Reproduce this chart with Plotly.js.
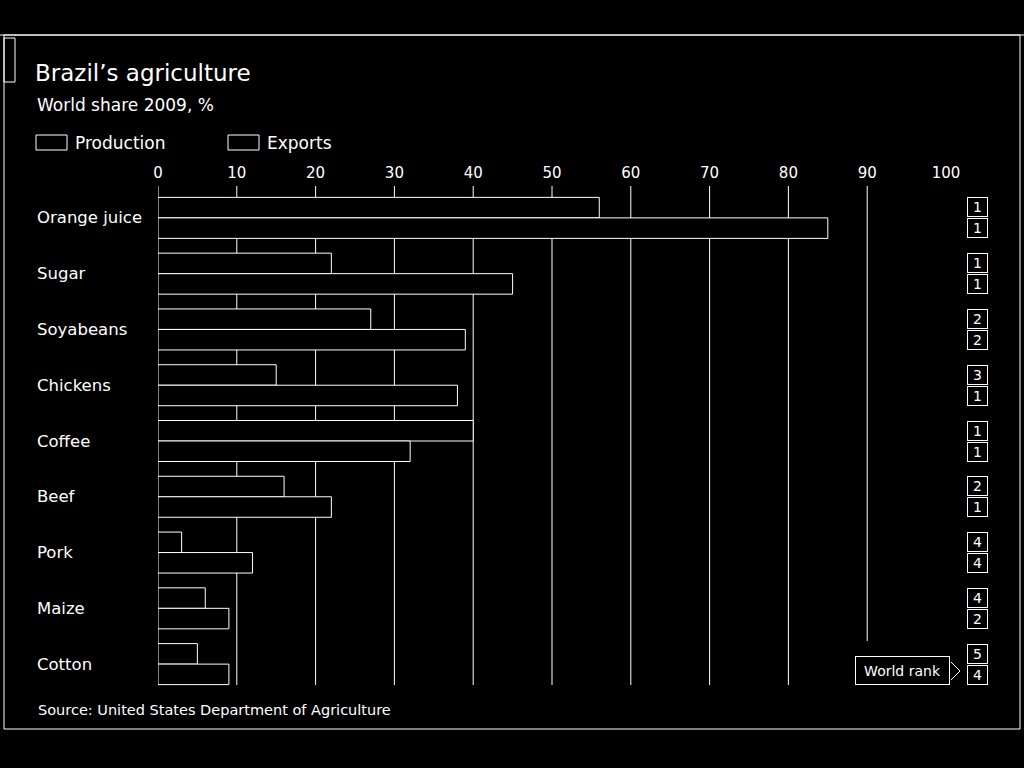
<!DOCTYPE html>
<html><head><meta charset="utf-8">
<script src="https://cdn.plot.ly/plotly-3.0.1.min.js"></script>
<style>html,body{margin:0;padding:0;background:#000;}#chart{width:1024px;height:768px;}</style>
</head><body><div id="chart"></div>
<script>
// ---- data ----
const categories = ["Orange juice", "Sugar", "Soyabeans", "Chickens", "Coffee", "Beef", "Pork", "Maize", "Cotton"];
const production = [56, 22, 27, 15, 40, 16, 3, 6, 5];
const exportsShare = [85, 45, 39, 38, 32, 22, 12, 9, 9];
const productionRank = [1, 1, 2, 3, 1, 2, 4, 4, 5];
const exportsRank = [1, 1, 2, 1, 1, 1, 4, 2, 4];
const tickValues = [0, 10, 20, 30, 40, 50, 60, 70, 80, 90, 100];
const gridValues = [0, 10, 20, 30, 40, 50, 60, 70, 80, 90];

// ---- layout helpers (pixel -> paper) ----
const L = 158, R = 946, T = 190, B = 692;
const px = x => (x - L) / (R - L);
const py = y => (B - y) / (B - T);
const FONT = "'DejaVu Sans', Roboto, sans-serif";
const WHITE = "#ffffff";

const traces = [
  {type: "bar", orientation: "h", name: "Production", y: categories, x: production,
   marker: {color: "#000", line: {color: WHITE, width: 1}}, hoverinfo: "x+y"},
  {type: "bar", orientation: "h", name: "Exports", y: categories, x: exportsShare,
   marker: {color: "#000", line: {color: WHITE, width: 1}}, hoverinfo: "x+y"}
];

const shapes = [];
// gridlines
gridValues.forEach(v => {
  shapes.push({type: "line", xref: "x", yref: "paper", x0: v, x1: v,
    y0: v === 90 ? py(641) : py(685), y1: py(186), layer: "below",
    line: {color: WHITE, width: 1}});
});
// frame
shapes.push({type: "line", xref: "paper", yref: "paper", x0: px(0), x1: px(1024), y0: py(35), y1: py(35), line: {color: WHITE, width: 1}});
shapes.push({type: "rect", xref: "paper", yref: "paper", x0: px(4), x1: px(1020), y0: py(729), y1: py(35), line: {color: WHITE, width: 1}});
shapes.push({type: "rect", xref: "paper", yref: "paper", x0: px(4), x1: px(15), y0: py(82), y1: py(38), line: {color: WHITE, width: 1}});
// legend swatches
shapes.push({type: "rect", xref: "paper", yref: "paper", x0: px(36), x1: px(67), y0: py(150), y1: py(135), line: {color: WHITE, width: 1}, fillcolor: "#000"});
shapes.push({type: "rect", xref: "paper", yref: "paper", x0: px(228), x1: px(259), y0: py(150), y1: py(135), line: {color: WHITE, width: 1}, fillcolor: "#000"});
// "World rank" pointer chevron
shapes.push({type: "path", xref: "paper", yref: "paper",
  path: `M ${px(951)} ${py(662)} L ${px(960)} ${py(671)} L ${px(951)} ${py(680)}`,
  line: {color: WHITE, width: 1}});

const annotations = [];
// subtitle
annotations.push({xref: "paper", yref: "paper", x: px(35), y: py(105), xanchor: "left", yanchor: "middle",
  text: "World share 2009, %", showarrow: false, font: {family: FONT, size: 17, color: WHITE}});
// legend labels
annotations.push({xref: "paper", yref: "paper", x: px(73), y: py(143), xanchor: "left", yanchor: "middle",
  text: traces[0].name, showarrow: false, font: {family: FONT, size: 17, color: WHITE}});
annotations.push({xref: "paper", yref: "paper", x: px(265), y: py(143), xanchor: "left", yanchor: "middle",
  text: traces[1].name, showarrow: false, font: {family: FONT, size: 17, color: WHITE}});
// source
annotations.push({xref: "paper", yref: "paper", x: px(36), y: py(710), xanchor: "left", yanchor: "middle",
  text: "Source: United States Department of Agriculture", showarrow: false, font: {family: FONT, size: 14.5, color: WHITE}});
// category labels (left-aligned) and rank boxes
categories.forEach((c, i) => {
  annotations.push({xref: "paper", yref: "y", x: px(35), y: c, xanchor: "left", yanchor: "middle",
    text: c, showarrow: false, font: {family: FONT, size: 16.5, color: WHITE}});
  annotations.push({xref: "paper", yref: "y", x: px(977), y: c, xanchor: "center", yanchor: "middle", yshift: 10.5,
    text: String(productionRank[i]), showarrow: false, width: 16, height: 15, borderpad: 1.5,
    bordercolor: WHITE, borderwidth: 1, bgcolor: "#000", font: {family: FONT, size: 14, color: WHITE}});
  annotations.push({xref: "paper", yref: "y", x: px(977), y: c, xanchor: "center", yanchor: "middle", yshift: -10.5,
    text: String(exportsRank[i]), showarrow: false, width: 16, height: 15, borderpad: 1.5,
    bordercolor: WHITE, borderwidth: 1, bgcolor: "#000", font: {family: FONT, size: 14, color: WHITE}});
});
// World rank label
annotations.push({xref: "paper", yref: "y", x: px(855), y: categories[categories.length - 1], xanchor: "left", yanchor: "middle", yshift: -6.5,
  text: "World rank", showarrow: false, width: 84, height: 18, borderpad: 4.5, bordercolor: WHITE, borderwidth: 1, bgcolor: "#000",
  font: {family: FONT, size: 14, color: WHITE}});

const layout = {
  width: 1024, height: 768,
  paper_bgcolor: "#000", plot_bgcolor: "rgba(0,0,0,0)",
  margin: {l: L, r: 1024 - R, t: T, b: 768 - B, pad: 0},
  title: {text: "Brazil\u2019s agriculture", x: 35 / 1024, xanchor: "left", xref: "container",
    y: 1 - 73 / 768, yanchor: "middle", yref: "container", font: {family: FONT, size: 23, color: WHITE}},
  showlegend: false,
  barmode: "group", bargap: 0.265, bargroupgap: 0,
  xaxis: {side: "top", range: [0, 100], tickmode: "array", tickvals: tickValues, ticktext: tickValues.map(String),
    showgrid: false, zeroline: false, showline: false, ticks: "outside", ticklen: 5, tickcolor: "rgba(0,0,0,0)",
    tickfont: {family: FONT, size: 15, color: WHITE}, fixedrange: true},
  yaxis: {type: "category", categoryorder: "array", categoryarray: categories, autorange: "reversed",
    showticklabels: false, showgrid: false, zeroline: false, showline: false, ticks: "", fixedrange: true},
  shapes: shapes,
  annotations: annotations,
  font: {family: FONT, color: WHITE}
};

Plotly.newPlot("chart", traces, layout, {displayModeBar: false, staticPlot: true});
</script>
</body></html>
